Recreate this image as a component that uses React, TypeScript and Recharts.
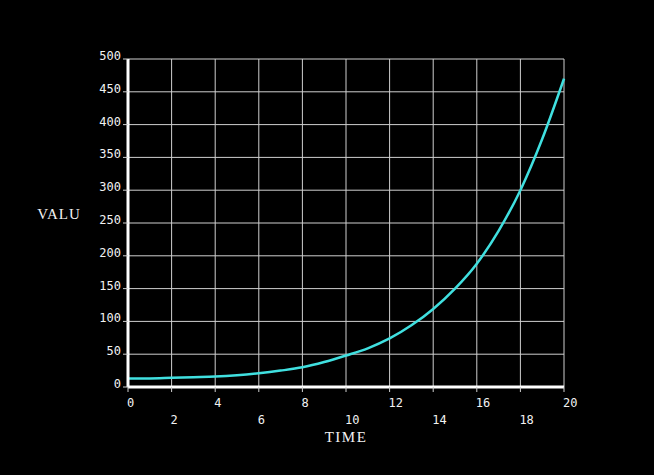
import React from "react";
import { LineChart, Line, XAxis, YAxis, CartesianGrid } from "recharts";

// TIME values (x) and VALU readings (y)
const times = [0, 1, 2, 3, 4, 5, 6, 7, 8, 9, 10, 11, 12, 13, 14, 15, 16, 17, 18, 19, 20];
const valu = [13, 13, 14, 15, 16, 18, 21, 25, 30, 38, 48, 59, 74, 94, 119, 150, 188, 238, 300, 378, 470];

const xTicks = [0, 2, 4, 6, 8, 10, 12, 14, 16, 18, 20];
const yTicks = [0, 50, 100, 150, 200, 250, 300, 350, 400, 450, 500];

const data = times.map((t, i) => ({ time: t, valu: valu[i] }));

const tickFont = "DejaVu Sans Mono, monospace";
const titleFont = "Liberation Serif, serif";

const XTick = (props: any) => {
  const { x, y, payload, index } = props;
  const row = index % 2 === 0 ? 0 : 1;
  return (
    <text
      x={x - 1}
      y={y + 13 + row * 16.5}
      fill="#f2f2f2"
      fontSize={12}
      fontFamily={tickFont}
      textAnchor="start"
    >
      {payload.value}
    </text>
  );
};

const YTick = (props: any) => {
  const { x, y, payload } = props;
  return (
    <text x={x - 1} y={y + 1} fill="#f2f2f2" fontSize={12} fontFamily={tickFont} textAnchor="end">
      {payload.value}
    </text>
  );
};

export default function App() {
  return (
    <div style={{ width: 654, height: 475, background: "#000", position: "relative" }}>
      <style>{`body{margin:0;background:#000}`}</style>
      <LineChart
        width={654}
        height={475}
        data={data}
        margin={{ top: 59, right: 90, bottom: 58, left: 68 }}
        accessibilityLayer={false}
      >
        <CartesianGrid stroke="#cfcfcf" strokeWidth={1} />
        <XAxis
          dataKey="time"
          type="number"
          domain={[0, 20]}
          ticks={xTicks}
          interval={0}
          height={30}
          axisLine={{ stroke: "#fff", strokeWidth: 3 }}
          tickLine={{ stroke: "#cfcfcf" }}
          tickSize={5}
          tickMargin={2}
          tick={<XTick />}
          label={() => (
            <text
              x={346}
              y={442}
              fill="#f2f2f2"
              fontSize={15}
              fontFamily={titleFont}
              letterSpacing={1.5}
              textAnchor="middle"
            >
              TIME
            </text>
          )}
        />
        <YAxis
          type="number"
          domain={[0, 500]}
          ticks={yTicks}
          interval={0}
          width={60}
          axisLine={{ stroke: "#fff", strokeWidth: 3 }}
          tickLine={{ stroke: "#cfcfcf" }}
          tickSize={5}
          tickMargin={1}
          tick={<YTick />}
          label={() => (
            <text
              x={59}
              y={219}
              fill="#f2f2f2"
              fontSize={15}
              fontFamily={titleFont}
              letterSpacing={1}
              textAnchor="middle"
            >
              VALU
            </text>
          )}
        />
        <Line
          type="monotone"
          dataKey="valu"
          stroke="#40e0e0"
          strokeWidth={2.5}
          dot={false}
          isAnimationActive={false}
        />
      </LineChart>
    </div>
  );
}
